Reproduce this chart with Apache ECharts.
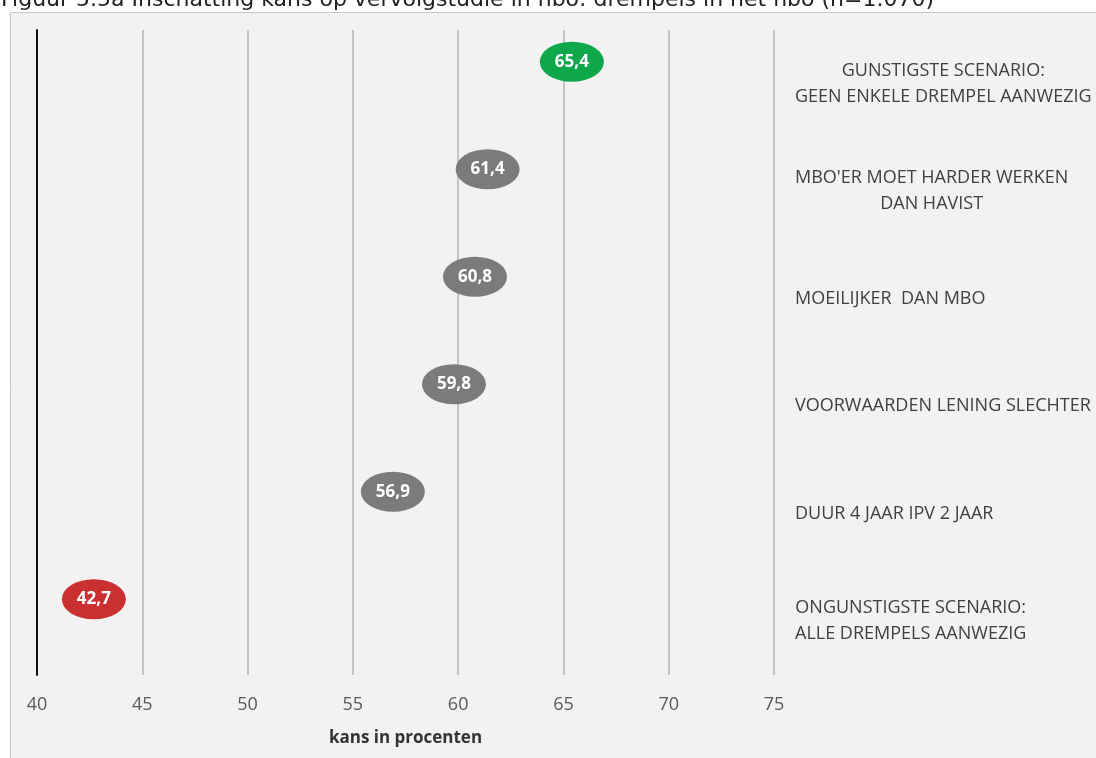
<!DOCTYPE html>
<html>
<head>
<meta charset="utf-8">
<script src="https://cdn.jsdelivr.net/npm/echarts@6/dist/echarts.min.js"></script>
<style>
html,body{margin:0;padding:0;background:#fff;}
#chart{width:1096px;height:758px;}
</style>
</head>
<body>
<div id="chart"></div>
<script>
// ---- data ----
const titleText = 'Figuur 5.5a Inschatting kans op vervolgstudie in hbo: drempels in het hbo (n=1.070)';
const categories = [
  'GUNSTIGSTE SCENARIO:\nGEEN ENKELE DREMPEL AANWEZIG',
  "MBO'ER MOET HARDER WERKEN\nDAN HAVIST",
  'MOEILIJKER  DAN MBO',
  'VOORWAARDEN LENING SLECHTER',
  'DUUR 4 JAAR IPV 2 JAAR',
  'ONGUNSTIGSTE SCENARIO:\nALLE DREMPELS AANWEZIG'
];
const values = [65.4, 61.4, 60.8, 59.8, 56.9, 42.7];
const xTicks = [40, 45, 50, 55, 60, 65, 70, 75];
const axisName = 'kans in procenten';

// ---- styles ----
const bubbleColors = ['#0fa74b', '#7b7b7b', '#7b7b7b', '#7b7b7b', '#7b7b7b', '#c9302f'];
const labelFont = '"Open Sans", sans-serif';

const chart = echarts.init(document.getElementById('chart'));
chart.setOption({
  backgroundColor: '#ffffff',
  animation: false,
  title: {
    text: titleText,
    left: 1,
    top: -11,
    padding: 0,
    textStyle: { fontFamily: '"DejaVu Sans", Verdana, sans-serif', fontSize: 22, fontWeight: 'normal', color: '#222', lineHeight: 22 }
  },
  graphic: [{
    type: 'rect',
    z: -10,
    shape: { x: 10.5, y: 12.5, width: 1100, height: 760 },
    style: { fill: '#f2f2f2', stroke: '#c6c6c6', lineWidth: 1 }
  }],
  grid: { left: 37, right: 1096 - 774, top: 30, bottom: 758 - 675, containLabel: false },
  xAxis: {
    type: 'value',
    min: xTicks[0],
    max: xTicks[xTicks.length - 1],
    interval: xTicks[1] - xTicks[0],
    axisLine: { show: false },
    axisTick: { show: false },
    splitLine: { show: true, lineStyle: { color: '#b3b3b3', width: 1.5 } },
    axisLabel: { color: '#595959', fontSize: 18, fontFamily: labelFont, margin: 21 },
    name: axisName,
    nameLocation: 'middle',
    nameGap: 55,
    nameTextStyle: { color: '#333', fontSize: 17, fontWeight: 'bold', fontFamily: labelFont }
  },
  yAxis: [{
    type: 'category',
    inverse: true,
    position: 'right',
    data: categories,
    axisLine: { show: false },
    axisTick: { show: false },
    splitLine: { show: false },
    axisLabel: {
      align: 'left',
      margin: 21,
      formatter: function (v) {
        const lines = v.split('\n');
        if (lines.length === 1) return '{l|' + v + '}';
        return lines.map(function (s) { return '{c|' + s + '}'; }).join('\n');
      },
      rich: {
        l: { fontFamily: labelFont, fontSize: 18, color: '#404040', lineHeight: 26 },
        c: { fontFamily: labelFont, fontSize: 18, color: '#404040', lineHeight: 26, align: 'center' }
      }
    }
  }, {
    type: 'category',
    inverse: true,
    position: 'left',
    data: categories,
    axisLine: { show: true, lineStyle: { color: '#111', width: 2 } },
    axisTick: { show: false },
    axisLabel: { show: false },
    splitLine: { show: false }
  }],
  series: [{
    type: 'scatter',
    yAxisIndex: 0,
    symbol: 'circle',
    symbolSize: [64, 40],
    symbolOffset: [0, -22],
    data: values.map(function (v, i) {
      return { value: [v, i], itemStyle: { color: bubbleColors[i], opacity: 1 } };
    }),
    label: {
      show: true,
      position: 'inside',
      color: '#fff',
      fontWeight: 'bold',
      fontSize: 17,
      fontFamily: labelFont,
      formatter: function (p) { return String(p.value[0]).replace('.', ','); }
    },
    z: 5
  }]
});
</script>
</body>
</html>
